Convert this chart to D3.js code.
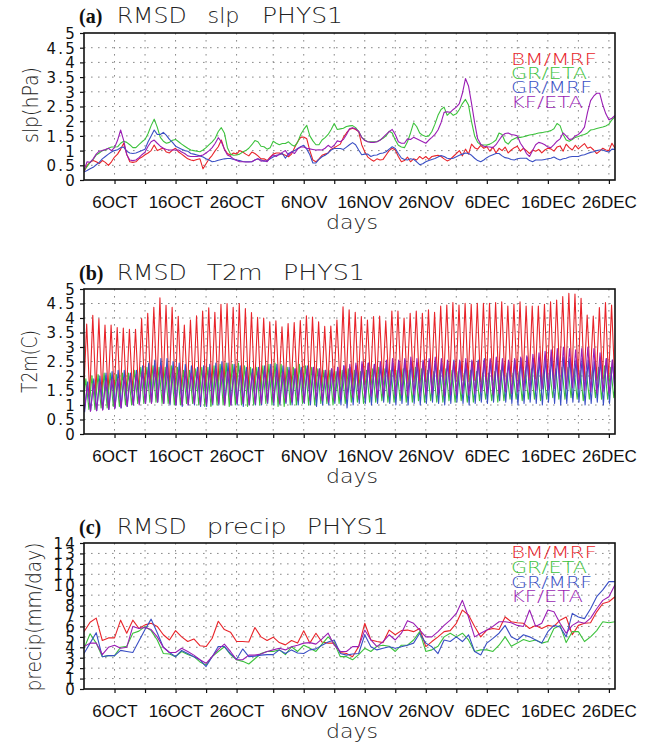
<!DOCTYPE html>
<html><head><meta charset="utf-8">
<script src="https://cdn.jsdelivr.net/npm/d3@7"></script>
<style>body{margin:0;background:#fff}svg{display:block}</style>
</head><body>
<svg id="chart" width="646" height="745"></svg>
<script>
// ---------------- DATA ----------------
const seriesNames = ["BM/MRF", "GR/ETA", "GR/MRF", "KF/ETA"];
const seriesColors = ["#e8242a", "#3cc23c", "#3a4fc4", "#9a1db4"];

// x axis: days since 1 Oct (domain 0..87)
const xTickDays   = [5, 15, 25, 36, 46, 56, 66, 76, 86];
const xTickLabels = ["6OCT","16OCT","26OCT","6NOV","16NOV","26NOV","6DEC","16DEC","26DEC"];
const xGridDays   = [5,10,15,20,25,31,36,41,46,51,56,61,66,71,76,81,86];

// (a) slp RMSD, 12-hourly from day 0
const slpBM_MRF = [
0.27,0.5,0.6,0.66,0.62,0.56,0.66,0.6,0.5,0.62,0.78,0.88,1.05,1.25,0.88,0.62,0.6,0.62,0.72,0.78,
0.86,0.92,1.0,1.19,1.0,1.05,1.08,0.95,0.92,1.02,1.08,0.95,0.88,0.8,0.72,0.68,0.66,0.7,0.72,0.38,
0.55,0.72,0.84,1.0,1.13,1.36,1.05,0.9,0.84,0.92,0.88,1.0,0.95,0.88,0.82,0.95,0.9,0.82,0.72,0.72,
0.66,0.78,0.88,0.92,0.92,0.88,0.84,0.79,0.88,1.1,1.3,1.45,1.46,1.4,1.0,0.68,0.62,0.72,0.84,0.88,
0.92,1.05,1.1,1.16,1.22,1.45,1.6,1.72,1.76,1.72,1.65,1.2,0.96,0.78,0.7,0.64,0.72,0.68,0.7,0.85,
1.0,1.08,1.02,0.8,0.62,0.66,0.78,0.62,0.72,0.68,0.8,0.72,0.8,0.7,0.8,0.82,0.84,0.8,
0.72,0.65,0.7,0.8,0.9,1.0,0.82,1.05,0.88,1.22,1.1,1.05,1.18,1.08,1.13,0.98,1.12,0.92,1.08,1.0,
1.12,0.92,1.02,1.1,1.15,0.98,1.08,1.0,0.9,1.02,0.98,1.04,0.92,1.02,1.08,1.06,0.98,1.12,1.16,0.98,
1.22,1.1,1.02,1.18,1.06,1.15,1.24,1.08,1.12,1.02,0.9,0.98,1.08,1.02,1.0,1.25,1.08];
const slpGR_ETA = [
0.32,0.45,0.6,0.7,0.85,0.92,1.0,1.02,1.08,1.12,1.12,1.13,1.25,1.32,1.28,1.2,1.1,1.1,1.2,1.3,
1.38,1.58,1.85,2.07,1.8,1.45,1.32,1.25,1.28,1.35,1.38,1.3,1.22,1.15,1.08,1.02,1.0,0.98,0.96,1.02,
1.1,1.2,1.3,1.42,1.65,1.78,1.6,1.1,0.88,0.84,0.85,0.88,0.95,1.0,1.08,1.2,1.34,1.3,1.15,1.13,
1.05,1.1,1.32,1.25,1.2,1.24,1.24,1.3,1.2,1.15,1.28,1.55,1.72,1.86,1.5,1.33,1.2,1.2,1.36,1.44,
1.55,1.72,1.92,1.72,1.74,1.76,1.82,1.84,1.85,1.78,1.65,1.45,1.36,1.3,1.3,1.3,1.3,1.36,1.42,1.5,
1.66,1.6,1.36,1.18,1.12,1.1,1.3,1.6,1.94,1.82,1.6,1.52,1.48,1.5,1.65,1.9,2.2,2.4,
2.48,2.2,2.3,2.2,2.25,2.4,2.6,2.74,2.55,1.98,1.5,1.28,1.2,1.19,1.19,1.22,1.28,1.36,1.6,1.55,
1.3,1.22,1.35,1.4,1.45,1.45,1.47,1.5,1.53,1.55,1.57,1.6,1.61,1.63,1.65,1.68,1.74,1.92,1.85,1.55,
1.36,1.32,1.38,1.45,1.48,1.52,1.55,1.6,1.7,1.72,1.75,1.78,1.8,1.84,1.9,2.05,2.15];
const slpGR_MRF = [
0.27,0.32,0.38,0.43,0.52,0.6,0.72,0.8,0.88,0.95,1.0,1.03,1.1,1.12,0.98,0.92,0.9,0.92,0.96,1.0,
1.05,1.3,1.5,1.7,1.55,1.55,1.62,1.52,1.38,1.28,1.15,1.1,1.05,1.0,0.98,0.9,0.88,0.85,0.82,0.78,
0.72,0.68,0.62,0.64,0.67,0.7,0.72,0.73,0.73,0.7,0.68,0.66,0.63,0.62,0.62,0.62,0.68,0.72,0.68,0.64,
0.65,0.72,0.78,0.84,0.86,0.9,0.74,0.9,0.95,1.0,1.07,1.13,1.18,1.05,0.86,0.58,0.58,0.7,0.79,0.84,
0.92,1.02,1.07,1.07,1.07,1.04,1.12,1.2,1.27,1.2,1.02,0.86,0.88,0.88,0.8,0.84,0.85,0.9,0.92,0.96,
1.05,1.13,1.07,0.9,0.75,0.7,0.68,0.72,0.7,0.62,0.52,0.55,0.62,0.66,0.7,0.73,0.78,0.83,
0.8,0.74,0.72,0.74,0.79,0.84,0.88,0.92,0.9,0.84,0.74,0.66,0.62,0.68,0.76,0.82,0.86,0.9,0.9,0.82,
0.76,0.74,0.7,0.68,0.72,0.74,0.74,0.74,0.66,0.62,0.68,0.68,0.68,0.7,0.72,0.74,0.78,0.72,0.68,0.72,
0.74,0.78,0.8,0.8,0.8,0.84,0.86,0.9,0.94,0.96,1.0,1.02,1.02,0.98,0.95,1.05,1.04];
const slpKF_ETA = [
0.32,0.62,0.6,0.72,0.88,0.98,1.0,1.04,1.08,1.0,1.1,1.35,1.7,1.35,0.86,0.68,0.66,0.68,0.76,0.86,
0.95,1.15,1.3,1.36,1.25,1.15,1.08,1.04,1.02,1.02,1.02,1.02,0.95,0.9,0.82,0.8,0.8,0.8,0.82,0.85,
0.92,1.0,1.1,1.25,1.44,1.3,1.05,0.85,0.8,0.72,0.66,0.62,0.62,0.61,0.61,0.62,0.68,0.72,0.64,0.66,
0.62,0.75,0.85,0.8,0.88,0.94,1.0,0.84,0.96,0.9,1.05,1.12,1.12,1.08,1.06,1.04,1.02,1.03,1.02,1.08,
1.18,1.1,1.18,1.33,1.3,1.38,1.54,1.74,1.78,1.74,1.65,1.45,1.34,1.3,1.28,1.28,1.3,1.35,1.45,1.55,
1.64,1.72,1.55,1.3,1.25,1.25,1.4,1.38,1.45,1.4,1.35,1.3,1.25,1.36,1.45,1.55,1.7,1.95,
2.3,2.32,2.3,2.4,2.48,2.6,2.95,3.45,3.2,2.6,1.95,1.4,1.22,1.15,1.13,1.12,1.1,1.2,1.35,1.5,
1.58,1.6,1.55,1.53,1.5,1.25,1.1,0.9,0.8,1.0,1.2,1.28,1.25,1.2,1.12,1.1,1.2,1.32,1.4,1.6,
1.5,1.38,1.4,1.5,1.55,1.65,1.8,2.3,2.7,2.85,2.95,2.95,2.55,2.25,2.05,2.1,2.2];

// (b) T2m RMSD: daily minimum (before) and maximum of the diurnal cycle, one per day
const t2mBM_MRF_max = [3.79,4.09,3.97,3.76,3.76,3.67,3.65,3.61,3.61,3.98,4.16,4.37,4.7,4.44,4.37,4.06,3.76,3.93,4.08,4.24,
4.35,4.2,4.47,4.5,4.37,4.5,4.33,4.19,4.02,4.0,3.87,3.9,3.7,3.81,3.84,3.91,4.08,4.03,3.87,3.71,
3.72,3.93,4.39,4.28,4.2,4.05,3.93,4.05,4.07,3.9,4.24,4.24,4.0,4.16,4.24,4.16,4.28,4.2,4.41,4.45,
4.53,4.45,4.51,4.47,4.51,4.51,4.51,4.53,4.56,4.41,4.47,4.56,4.41,4.41,4.41,4.47,4.56,4.62,4.74,4.85,
4.83,4.68,4.1,4.07,4.36,4.53,4.45,4.4];
const t2mBM_MRF_min = [1.35,1.3,1.35,1.3,1.4,1.35,1.3,1.35,1.4,1.4,1.45,1.5,1.55,1.5,1.45,1.4,1.4,1.45,1.5,1.5,
1.5,1.55,1.5,1.55,1.5,1.45,1.5,1.45,1.5,1.5,1.55,1.5,1.55,1.5,1.55,1.6,1.6,1.55,1.6,1.6,
1.6,1.65,1.7,1.65,1.6,1.65,1.7,1.7,1.65,1.7,1.7,1.75,1.7,1.75,1.8,1.75,1.8,1.75,1.8,1.8,
1.85,1.8,1.85,1.8,1.85,1.8,1.8,1.85,1.8,1.85,1.8,1.85,1.8,1.85,1.9,1.85,1.9,1.9,1.95,1.9,
1.85,1.8,1.85,1.9,1.85,1.9,1.85,1.9];
const t2mGR_ETA_max = [1.9,2.0,2.05,2.1,2.1,2.05,2.1,2.1,2.2,2.3,2.3,2.35,2.3,2.3,2.35,2.3,2.2,2.2,2.25,2.3,
2.3,2.35,2.4,2.45,2.4,2.45,2.35,2.3,2.3,2.35,2.4,2.45,2.4,2.3,2.3,2.4,2.35,2.3,2.25,2.2,
2.2,2.15,2.2,2.25,2.2,2.15,2.2,2.25,2.3,2.25,2.2,2.2,2.25,2.2,2.3,2.25,2.2,2.15,2.2,2.25,
2.2,2.15,2.1,2.2,2.15,2.1,2.1,2.15,2.2,2.1,2.1,2.15,2.2,2.25,2.2,2.15,2.2,2.25,2.3,2.3,
2.25,2.2,2.15,2.2,2.3,2.35,2.3,2.25];
const t2mGR_ETA_min = [0.9,0.85,0.85,0.9,0.9,0.95,0.95,1.0,1.0,1.05,1.05,1.1,1.1,1.05,1.05,1.0,1.0,1.05,1.05,1.0,
0.95,0.95,1.0,1.0,0.95,1.0,1.0,0.95,1.0,1.0,1.05,1.0,0.95,0.95,1.0,1.0,1.05,1.0,1.0,1.05,
1.05,1.0,1.05,1.05,1.1,1.1,1.05,1.1,1.1,1.15,1.1,1.1,1.15,1.1,1.1,1.15,1.1,1.15,1.1,1.1,
1.15,1.1,1.15,1.1,1.1,1.15,1.2,1.15,1.1,1.15,1.2,1.2,1.15,1.2,1.2,1.15,1.2,1.25,1.2,1.2,
1.25,1.2,1.15,1.2,1.25,1.2,1.2,1.25];
const t2mGR_MRF_max = [1.8,1.9,2.0,2.1,2.15,2.2,2.2,2.1,2.2,2.35,2.45,2.55,2.6,2.6,2.5,2.45,2.4,2.35,2.3,2.35,
2.4,2.45,2.5,2.45,2.4,2.35,2.3,2.25,2.3,2.35,2.4,2.4,2.35,2.3,2.25,2.3,2.35,2.3,2.25,2.2,
2.25,2.3,2.35,2.3,2.35,2.4,2.45,2.4,2.35,2.4,2.45,2.5,2.55,2.5,2.45,2.5,2.55,2.5,2.45,2.5,
2.55,2.5,2.45,2.5,2.55,2.6,2.55,2.5,2.45,2.5,2.55,2.6,2.65,2.6,2.55,2.6,2.65,2.7,2.65,2.6,
2.55,2.6,2.55,2.5,2.55,2.6,2.55,2.5];
const t2mGR_MRF_min = [0.75,0.8,0.8,0.85,0.85,0.9,0.9,0.95,1.0,1.05,1.05,1.1,1.1,1.05,1.0,1.0,0.95,1.0,1.0,0.95,
0.95,1.0,1.0,1.05,1.0,1.0,0.95,1.0,1.0,1.0,1.05,1.0,1.0,1.05,1.0,1.0,1.05,1.0,0.95,1.0,
1.0,1.05,1.0,0.9,1.0,1.05,1.05,1.0,1.05,1.1,1.05,1.0,1.05,1.0,1.05,1.0,1.05,1.1,1.05,1.0,
1.05,1.1,1.05,1.0,1.05,1.1,1.05,1.1,1.15,1.1,1.05,1.0,1.05,1.1,1.05,1.0,1.1,1.05,1.0,1.05,
1.1,1.1,1.0,1.05,1.1,1.0,1.05,1.1];
const t2mKF_ETA_max = [1.7,1.75,1.8,1.85,1.9,1.9,1.95,2.0,2.05,2.15,2.2,2.3,2.35,2.3,2.25,2.2,2.15,2.1,2.15,2.2,
2.2,2.25,2.2,2.15,2.2,2.2,2.15,2.1,2.15,2.2,2.25,2.2,2.15,2.2,2.25,2.2,2.25,2.3,2.25,2.2,
2.25,2.3,2.35,2.4,2.45,2.5,2.45,2.4,2.5,2.55,2.6,2.55,2.6,2.65,2.6,2.55,2.6,2.65,2.6,2.55,
2.5,2.55,2.6,2.55,2.5,2.55,2.6,2.65,2.6,2.55,2.6,2.65,2.7,2.75,2.8,2.85,2.9,2.95,3.0,2.95,
2.9,2.95,3.0,2.95,2.8,2.6,2.55,2.5];
const t2mKF_ETA_min = [0.8,0.78,0.8,0.82,0.85,0.88,0.9,0.95,1.0,1.0,1.05,1.05,1.1,1.05,1.05,1.0,1.0,1.0,1.05,1.0,
1.0,1.05,1.05,1.0,1.0,1.05,1.05,1.0,1.05,1.05,1.1,1.1,1.05,1.1,1.1,1.15,1.1,1.15,1.2,1.15,
1.1,1.15,1.2,1.2,1.25,1.2,1.25,1.3,1.25,1.3,1.3,1.3,1.35,1.3,1.35,1.3,1.35,1.4,1.35,1.3,
1.35,1.35,1.4,1.35,1.4,1.45,1.4,1.35,1.4,1.45,1.4,1.45,1.5,1.45,1.5,1.55,1.5,1.55,1.5,1.55,
1.6,1.55,1.5,1.45,1.4,1.45,1.4,1.35];
// time of day (fraction of a day) of the daily maximum for each model
const t2mPeakPhase = [0.44, 0.30, 0.60, 0.55];

// (c) precip RMSD, daily from day 0
const prBM_MRF = [5.5,6.4,6.8,4.65,4.9,4.9,6.6,5.35,6.6,5.8,6.15,6.3,6.0,5.2,4.7,5.6,5.0,4.55,4.8,4.15,
4.07,4.87,6.5,5.7,5.45,4.55,4.55,4.5,5.9,5.0,4.65,4.97,4.45,4.23,4.65,4.4,5.58,4.4,5.35,4.5,
4.4,4.4,3.5,3.4,3.1,4.06,6.3,4.7,4.55,4.45,5.65,5.2,5.6,5.65,5.5,5.8,4.06,4.55,5.0,5.5,
5.6,6.3,7.57,7.1,6.0,5.0,5.65,5.8,5.7,6.9,6.45,6.35,6.3,5.8,6.1,5.8,6.1,6.0,6.6,6.9,
5.2,6.1,6.3,6.35,7.4,8.2,8.37,8.85];
const prGR_ETA = [3.9,5.3,4.4,3.1,3.2,3.2,4.0,4.1,5.35,5.55,6.0,5.6,4.7,3.4,3.35,3.1,3.6,3.3,3.1,2.6,
2.3,3.1,3.6,4.05,3.3,2.8,2.65,2.4,2.9,3.4,3.6,3.6,3.75,3.3,4.05,3.6,4.2,3.9,3.6,4.3,
5.0,4.4,3.1,3.1,2.8,3.3,3.9,3.6,4.1,4.2,4.1,3.6,4.2,4.2,4.7,5.5,3.6,3.75,4.1,5.0,
5.35,5.0,5.35,4.7,3.6,3.75,3.75,3.6,4.2,5.0,4.1,4.4,4.75,4.55,4.7,4.4,4.55,5.8,6.1,4.45,
5.5,5.5,4.55,5.0,5.6,6.45,6.35,6.45];
const prGR_MRF = [3.4,4.4,5.4,3.1,3.2,3.2,3.7,3.6,3.5,4.6,5.7,6.7,5.4,4.0,3.5,3.1,3.7,3.4,3.1,2.8,
2.15,3.1,4.07,4.07,3.4,2.85,3.84,3.1,3.15,3.25,3.3,3.3,3.75,3.4,3.75,3.45,3.4,3.75,3.85,4.2,
4.5,4.7,3.4,3.25,3.35,3.4,5.2,4.05,3.75,3.9,4.05,3.9,4.05,4.2,4.4,5.35,4.4,4.05,3.4,4.7,
4.55,5.0,4.55,5.2,3.6,3.26,4.4,4.85,5.35,6.1,5.0,4.7,5.2,5.0,4.7,4.4,5.5,6.1,5.95,5.0,
7.25,6.9,6.75,7.7,8.85,9.5,10.3,10.3];
const prKF_ETA = [4.07,4.4,4.4,3.3,4.0,4.2,3.9,4.0,6.0,5.8,5.9,5.7,5.0,4.0,3.5,3.5,3.9,3.6,3.25,2.8,
2.46,3.1,3.8,4.3,3.6,2.8,2.8,3.25,3.25,3.35,3.6,3.75,3.9,3.75,4.05,4.2,4.4,4.45,4.3,4.8,
5.35,4.2,3.6,3.6,4.06,4.06,5.65,4.7,4.06,4.55,5.2,4.7,5.35,6.55,6.3,5.65,5.0,5.0,5.5,6.1,
6.6,7.25,8.5,6.9,5.0,5.35,5.65,6.0,6.45,6.45,6.35,6.1,6.0,7.57,6.0,6.3,7.57,7.4,6.3,5.35,
6.1,6.45,6.3,6.8,7.7,8.5,8.85,10.0];

// axis tick values
const yTicksA = [0,0.5,1,1.5,2,2.5,3,3.5,4,4.5,5];
const yTicksC = [0,1,2,3,4,5,6,7,8,9,10,11,12,13,14];

// ---------------- DRAWING ----------------
const THIN = '"DejaVu Sans", "Open Sans", sans-serif';
const svg = d3.select("#chart");
const X0 = 84, X1 = 615;
const x = d3.scaleLinear().domain([0, 87]).range([X0, X1]);

function halfDaily(vals){ return vals.map((v,i)=>[i*0.5, v]); }
function daily(vals){ return vals.map((v,i)=>[i, v]); }
function diurnal(mins, maxs, phase){
  const pts = [];
  maxs.forEach((mx,i)=>{ pts.push([i+phase-0.5, mins[i]]); pts.push([i+phase, mx]); });
  return pts;
}

const legendLen = [86, 76, 81, 72];

const panels = [
  {id:"a", top:33, bottom:180, ymax:5, ticks:yTicksA, ylabel:"slp(hPa)", ylabC:105, ylabLen:76, ylabX:38,
   words:[["RMSD",116.7,70],["slp",207.5,32],["PHYS1",262,81]], titleY:23, legendY:65, legendStep:14.2,
   series:[halfDaily(slpBM_MRF),halfDaily(slpGR_ETA),halfDaily(slpGR_MRF),halfDaily(slpKF_ETA)]},
  {id:"b", top:289, bottom:434, ymax:5, ticks:yTicksA, ylabel:"T2m(C)", ylabC:361.5, ylabLen:63, ylabX:37,
   words:[["RMSD",116.7,70],["T2m",206.7,56],["PHYS1",283,82]], titleY:280, legendY:null,
   series:[diurnal(t2mBM_MRF_min,t2mBM_MRF_max,t2mPeakPhase[0]),diurnal(t2mGR_ETA_min,t2mGR_ETA_max,t2mPeakPhase[1]),
           diurnal(t2mGR_MRF_min,t2mGR_MRF_max,t2mPeakPhase[2]),diurnal(t2mKF_ETA_min,t2mKF_ETA_max,t2mPeakPhase[3])]},
  {id:"c", top:543, bottom:689, ymax:14, ticks:yTicksC, ylabel:"precip(mm/day)", ylabC:617, ylabLen:149, ylabX:41,
   words:[["RMSD",116.7,70],["precip",206.7,80],["PHYS1",306.7,82]], titleY:534, legendY:558, legendStep:14.8,
   series:[daily(prBM_MRF),daily(prGR_ETA),daily(prGR_MRF),daily(prKF_ETA)]}
];

panels.forEach(p=>{
  const y = d3.scaleLinear().domain([0,p.ymax]).range([p.bottom,p.top]);
  const g = svg.append("g");
  const clipId = "clip"+p.id;
  svg.append("clipPath").attr("id",clipId).append("rect")
    .attr("x",X0).attr("y",p.top).attr("width",X1-X0).attr("height",p.bottom-p.top);

  // grid
  g.append("g").selectAll("line").data(xGridDays).join("line")
    .attr("x1",d=>x(d)).attr("x2",d=>x(d)).attr("y1",p.top).attr("y2",p.bottom)
    .attr("stroke","#8a8a8a").attr("stroke-width",1).attr("stroke-dasharray","1.6,5.4");
  g.append("g").selectAll("line").data(p.ticks.slice(1,-1)).join("line")
    .attr("x1",X0).attr("x2",X1).attr("y1",d=>y(d)).attr("y2",d=>y(d))
    .attr("stroke","#8a8a8a").attr("stroke-width",1).attr("stroke-dasharray","1.6,5.4");

  // lines
  const line = d3.line().x(d=>x(d[0])).y(d=>y(d[1]));
  const lg = g.append("g").attr("clip-path",`url(#${clipId})`);
  p.series.forEach((s,i)=>{
    lg.append("path").attr("d",line(s)).attr("fill","none")
      .attr("stroke",seriesColors[i]).attr("stroke-width",1.1).attr("stroke-linejoin","round");
  });

  // frame
  g.append("rect").attr("x",X0).attr("y",p.top).attr("width",X1-X0).attr("height",p.bottom-p.top)
    .attr("fill","none").attr("stroke","#111").attr("stroke-width",1.6);

  // y axis
  const ya = d3.axisLeft(y).tickValues(p.ticks).tickFormat(d=>String(d)).tickSize(4).tickPadding(3);
  const yg = g.append("g").attr("transform",`translate(${X0},0)`).call(ya);
  yg.select(".domain").remove();
  yg.selectAll("line").attr("stroke","#111").attr("stroke-width",1.2);
  yg.selectAll("text").attr("font-family",'"DejaVu Sans", sans-serif').attr("font-size",15)
    .attr("fill","#111").attr("letter-spacing",2.2).attr("dy","0.36em");

  // x axis
  const xa = d3.axisBottom(x).tickValues(xGridDays)
    .tickFormat(d=>{const k=xTickDays.indexOf(d);return k>=0?xTickLabels[k]:"";})
    .tickSize(4).tickPadding(12);
  const xg = g.append("g").attr("transform",`translate(0,${p.bottom})`).call(xa);
  xg.select(".domain").remove();
  xg.selectAll("line").attr("stroke","#111").attr("stroke-width",1.2);
  xg.selectAll("text").attr("font-family",'"Liberation Sans Narrow", "Liberation Sans", sans-serif')
    .attr("font-size",17).attr("fill","#111");

  // x label
  g.append("text").attr("x",352).attr("y",p.bottom+49).attr("text-anchor","middle")
    .attr("font-family",THIN).attr("font-weight",200).attr("font-size",20).attr("fill","#222")
    .attr("textLength",52).attr("lengthAdjust","spacingAndGlyphs").text("days");

  // y label
  g.append("text").attr("transform",`translate(${p.ylabX},${p.ylabC}) rotate(-90)`).attr("text-anchor","middle")
    .attr("font-family",THIN).attr("font-weight",200).attr("font-size",21).attr("fill","#222")
    .attr("textLength",p.ylabLen).attr("lengthAdjust","spacingAndGlyphs").text(p.ylabel);

  // title
  g.append("text").attr("x",79).attr("y",p.titleY).attr("font-family",'"Liberation Serif", serif')
    .attr("font-weight","bold").attr("font-size",20).attr("fill","#111").text(`(${p.id})`);
  p.words.forEach(w=>{
    g.append("text").attr("x",w[1]).attr("y",p.titleY).attr("font-family",THIN).attr("font-weight",200)
      .attr("font-size",21).attr("fill","#222").attr("textLength",w[2]).attr("lengthAdjust","spacingAndGlyphs").text(w[0]);
  });

  // legend
  if(p.legendY!==null){
    seriesNames.forEach((n,i)=>{
      g.append("text").attr("x",511).attr("y",p.legendY+i*p.legendStep)
        .attr("font-family",THIN).attr("font-weight",200).attr("font-size",16)
        .attr("fill",seriesColors[i]).attr("textLength",legendLen[i]).attr("lengthAdjust","spacingAndGlyphs").text(n);
    });
  }
});
</script></body></html>
